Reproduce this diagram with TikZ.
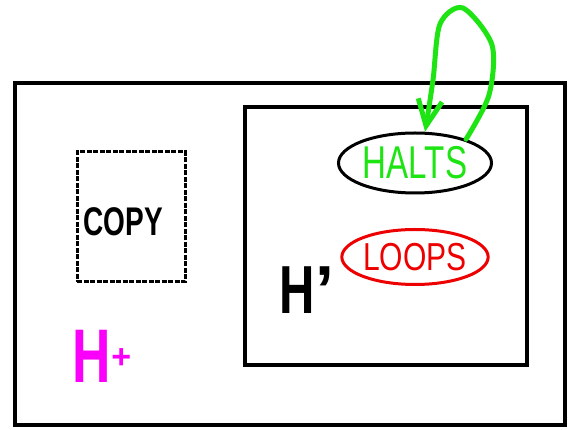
\documentclass[tikz,border=0pt]{standalone}
\usepackage{fontspec}
\setmainfont{Liberation Sans}
\usetikzlibrary{shapes.geometric, arrows.meta}
\definecolor{haltgreen}{RGB}{30,228,20}
\definecolor{loopred}{RGB}{236,0,0}
\definecolor{plusmagenta}{RGB}{250,0,250}
\tikzset{
  machine/.style={rectangle, draw=black, line width=4.5pt, inner sep=0},
  copybox/.style={rectangle, draw=black, line width=3pt, dash pattern=on 5pt off 1.5pt, inner sep=0},
  oval/.style={ellipse, line width=3pt, inner sep=0},
  backedge/.style={draw=haltgreen, line width=5pt, line cap=round, line join=round}
}

\begin{document}
\begin{tikzpicture}[x=1pt, y=-1pt]
  \useasboundingbox (0,0) rectangle (574,430);

  % H+ wraps COPY and H'
  \node[machine, minimum width=550, minimum height=342](hplus) at (290,254){};
  \node[copybox, minimum width=108, minimum height=130](copy) at (131,217){};
  \node[font=\bfseries\fontsize{40}{40}\selectfont](copytext) at (123,222){\scalebox{.7}[1]{COPY}};
  \node[machine, minimum width=282, minimum height=258](hprime) at (386,236){};

  \node[oval, draw=black, text=haltgreen, minimum width=153, minimum height=60,
        font=\fontsize{46}{46}\selectfont](halts) at (415,163){\scalebox{.72}[1]{HALTS}};
  \node[oval, draw=loopred, text=loopred, minimum width=144, minimum height=55,
        font=\fontsize{39}{39}\selectfont](loops) at (415,257){\scalebox{.77}[1]{LOOPS}};

  \node[font=\bfseries\fontsize{68}{68}\selectfont](hprimetext) at (307,290)
    {\scalebox{.72}[1]{H}\textquoteright};
  \node[text=plusmagenta, font=\bfseries\fontsize{76}{76}\selectfont](hplustext) at (102,356)
    {\scalebox{.7}[1]{H}\raisebox{14pt}{\fontsize{34}{34}\selectfont+}};

  % HALTS leads back into itself
  \draw[backedge, -{Straight Barb[length=26pt, width=24pt]}]
    plot[smooth] coordinates {(halts.25) (489,95) (492,45) (463,8) (440,24) (433,80) (halts.72)};
\end{tikzpicture}
\end{document}
